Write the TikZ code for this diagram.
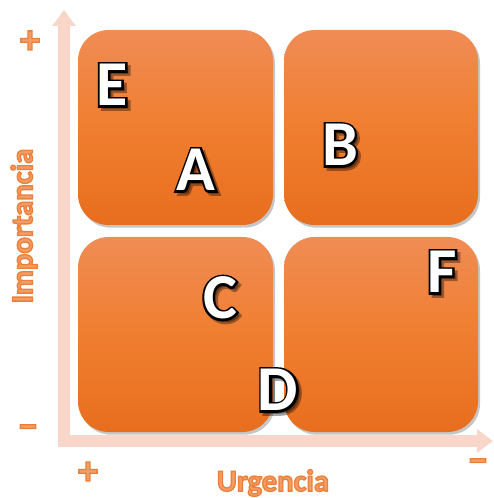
\documentclass[tikz,border=0pt]{standalone}
\usepackage{fontspec}
\setmainfont{Carlito}
\usetikzlibrary{shadows,arrows.meta}
\definecolor{axiscol}{HTML}{F8D6CA}
\definecolor{labcol}{HTML}{F29C66}
\definecolor{boxtop}{HTML}{F08C55}
\definecolor{boxmid}{HTML}{F07E30}
\definecolor{boxbot}{HTML}{E86E1E}
\tikzset{
  quad/.style={rounded corners=23pt, top color=boxtop, bottom color=boxbot, middle color=boxmid,
    drop shadow={opacity=0.45, shadow xshift=1.5pt, shadow yshift=-2pt}},
  axisline/.style={draw=axiscol, line width=8.5pt, -{Triangle[width=17pt,length=12pt]}},
  lett/.style={text=white, font=\fontsize{48}{50}\selectfont\bfseries, inner sep=0pt},
  lbl/.style={text=labcol, font=\fontsize{23}{25}\selectfont\bfseries, inner sep=0pt},
  sgn/.style={text=labcol, font=\fontsize{30}{30}\selectfont\bfseries, inner sep=0pt}
}
\newcommand{\Ls}[1]{\special{pdf:code q 2 Tr 3.2 w 0 0 0 RG}#1\special{pdf:code Q}}
\newcommand{\Lb}[1]{\special{pdf:code q 2 Tr 1.0 w 0.93 0.5 0.22 RG}#1\special{pdf:code Q}}
\begin{document}
\begin{tikzpicture}[x=0.75pt,y=-0.75pt]
\useasboundingbox (0,0) rectangle (493,498);
% axes
\coordinate (vbot) at (64,446);
\coordinate (vtop) at (64,10);
\coordinate (hleft) at (58,441);
\coordinate (hright) at (493,441);
\draw[axisline] (vbot) -- (vtop);
\draw[axisline] (hleft) -- (hright);
% quadrants
\path[quad] (78,30) rectangle (273,225);
\path[quad] (284,30) rectangle (478,225);
\path[quad] (78,237) rectangle (273,432);
\path[quad] (284,237) rectangle (478,432);
% letters: shadow, outline, fill
\foreach \n/\x/\y/\t in {e/112/85/E, a/196/170/A, b/340/145/B, c/220/298/C, d/278/390/D, f/442/272/F}{
  \node[lett, text=black, opacity=0.35] at (\x+3,\y+3) {\Ls{\t}};
  \node[lett, text=black] at (\x,\y) {\Ls{\t}};
  \node[lett] (\n) at (\x,\y) {\t};
}
% labels
\node[lbl, rotate=90] (imp) at (24,226) {\Lb{Importancia}};
\node[lbl] (urg) at (273,483) {\Lb{Urgencia}};
\node[sgn] (p1) at (30,42) {\Lb{+}};
\node[sgn] (m1) at (28,432) {\Lb{−}};
\node[sgn] (p2) at (88,473) {\Lb{+}};
\node[sgn] (m2) at (478,466) {\Lb{−}};
\end{tikzpicture}
\end{document}
